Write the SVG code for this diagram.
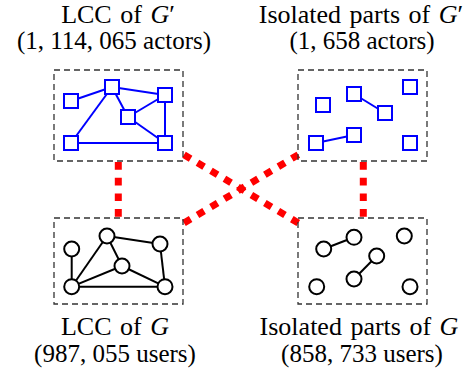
<svg xmlns="http://www.w3.org/2000/svg" width="474" height="375" viewBox="0 0 474 375">
<style>
.lbl{font-family:"Liberation Serif","Times New Roman",serif;font-size:25px;fill:#000;text-anchor:middle}
.w{font-size:26px;word-spacing:2px}
.it{font-style:italic}
.box{fill:none;stroke:#333;stroke-width:1.3;stroke-dasharray:6 4}
.sq{fill:#fff;stroke:#0000ff;stroke-width:2}
.be{stroke:#0000ff;stroke-width:2;fill:none}
.ci{fill:#fff;stroke:#000;stroke-width:2}
.ke{stroke:#000;stroke-width:2;fill:none}
.red{stroke:#ff0000;stroke-width:7;stroke-dasharray:7.7 8;fill:none}
</style>
<rect width="474" height="375" fill="#fff"/>
<g id="connectors">
<line class="red" x1="118.3" y1="162" x2="118.3" y2="218"/>
<line class="red" x1="363.3" y1="162" x2="363.3" y2="218"/>
<line class="red" x1="184" y1="154.7" x2="298.3" y2="223"/>
<line class="red" x1="184" y1="223" x2="298.3" y2="154.7"/>
</g>
<g id="lcc-gprime">
<rect class="box" x="54" y="70" width="129" height="91"/>
<g class="be">
<line x1="71" y1="101" x2="112" y2="87"/>
<line x1="112" y1="87" x2="165" y2="95"/>
<line x1="112" y1="87" x2="128" y2="117"/>
<line x1="128" y1="117" x2="165" y2="95"/>
<line x1="112" y1="87" x2="71" y2="143"/>
<line x1="71" y1="143" x2="165" y2="143"/>
<line x1="165" y1="95" x2="165" y2="143"/>
<line x1="128" y1="117" x2="165" y2="143"/>
</g>
<rect class="sq" x="64" y="94" width="14" height="14"/>
<rect class="sq" x="105" y="80" width="14" height="14"/>
<rect class="sq" x="158" y="88" width="14" height="14"/>
<rect class="sq" x="121" y="110" width="14" height="14"/>
<rect class="sq" x="64" y="136" width="14" height="14"/>
<rect class="sq" x="158" y="136" width="14" height="14"/>
<text class="lbl w" x="118" y="23">LCC of <tspan class="it">G</tspan>′</text>
<text class="lbl" x="114" y="49">(1, 114, 065 actors)</text>
</g>
<g id="iso-gprime">
<rect class="box" x="298" y="70" width="129" height="91"/>
<g class="be">
<line x1="354" y1="94" x2="385" y2="113"/>
<line x1="316" y1="143" x2="354" y2="135"/>
</g>
<rect class="sq" x="316" y="98" width="14" height="14"/>
<rect class="sq" x="347" y="87" width="14" height="14"/>
<rect class="sq" x="378" y="106" width="14" height="14"/>
<rect class="sq" x="403" y="80" width="14" height="14"/>
<rect class="sq" x="347" y="128" width="14" height="14"/>
<rect class="sq" x="309" y="136" width="14" height="14"/>
<rect class="sq" x="403" y="136" width="14" height="14"/>
<text class="lbl w" x="361" y="23">Isolated parts of <tspan class="it">G</tspan>′</text>
<text class="lbl" x="362" y="49">(1, 658 actors)</text>
</g>
<g id="lcc-g">
<rect class="box" x="54" y="218" width="129" height="86"/>
<g class="ke">
<line x1="71.7" y1="249" x2="71.7" y2="286.7"/>
<line x1="71.7" y1="286.7" x2="107" y2="236"/>
<line x1="71.7" y1="286.7" x2="122" y2="266"/>
<line x1="71.7" y1="286.7" x2="165" y2="286.7"/>
<line x1="107" y1="236" x2="122" y2="266"/>
<line x1="107" y1="236" x2="160" y2="244"/>
<line x1="160" y1="244" x2="165" y2="286.7"/>
<line x1="122" y1="266" x2="165" y2="286.7"/>
</g>
<circle class="ci" cx="71.7" cy="249" r="7.5"/>
<circle class="ci" cx="107" cy="236" r="7.5"/>
<circle class="ci" cx="160" cy="244" r="7.5"/>
<circle class="ci" cx="122" cy="266" r="7.5"/>
<circle class="ci" cx="71.7" cy="286.7" r="7.5"/>
<circle class="ci" cx="165" cy="286.7" r="7.5"/>
<text class="lbl w" x="115" y="335">LCC of <tspan class="it">G</tspan></text>
<text class="lbl" x="115" y="362">(987, 055 users)</text>
</g>
<g id="iso-g">
<rect class="box" x="298" y="218" width="129" height="86"/>
<g class="ke">
<line x1="323.7" y1="249" x2="354" y2="237.3"/>
<line x1="376.7" y1="256" x2="354" y2="279"/>
</g>
<circle class="ci" cx="323.7" cy="249" r="7.5"/>
<circle class="ci" cx="354" cy="237.3" r="7.5"/>
<circle class="ci" cx="404.3" cy="236" r="7.5"/>
<circle class="ci" cx="376.7" cy="256" r="7.5"/>
<circle class="ci" cx="354" cy="279" r="7.5"/>
<circle class="ci" cx="316.7" cy="286.7" r="7.5"/>
<circle class="ci" cx="410" cy="286.7" r="7.5"/>
<text class="lbl w" x="359" y="335">Isolated parts of <tspan class="it">G</tspan></text>
<text class="lbl" x="362" y="362">(858, 733 users)</text>
</g>
</svg>
